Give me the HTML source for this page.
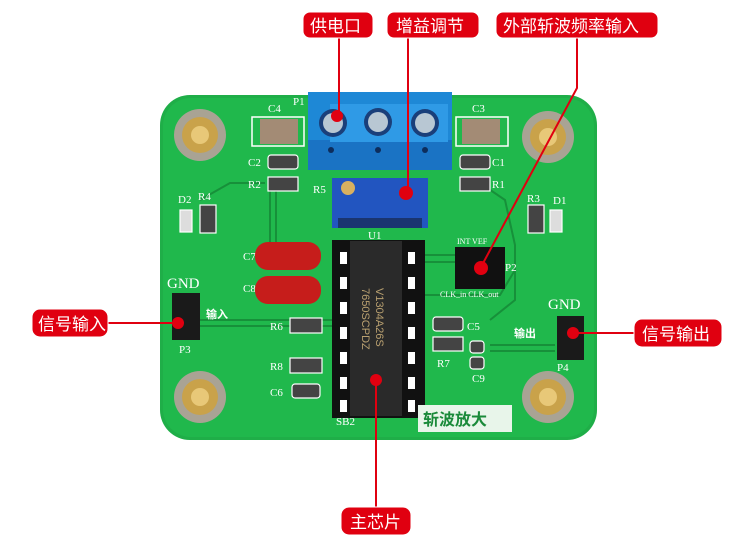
<!DOCTYPE html>
<html><head><meta charset="utf-8"><style>
html,body{margin:0;padding:0;background:#fff;}
svg{display:block;}
.lbl{font-family:"Liberation Sans","Noto Sans CJK SC",sans-serif;font-size:17px;fill:#fff;}
.silk{font-family:"Liberation Serif",serif;fill:#fff;font-size:11px;}
</style></head><body>
<svg width="750" height="545" viewBox="0 0 750 545" xmlns="http://www.w3.org/2000/svg">
<!-- board -->
<rect x="160" y="95" width="437" height="345" rx="30" fill="#1fae48"/>
<rect x="163" y="98" width="431" height="339" rx="28" fill="#20b84c"/>
<!-- traces -->
<g stroke="#17903a" stroke-width="2" fill="none">
<path d="M270 185 L270 245"/><path d="M276 185 L276 245"/>
<path d="M200 200 L230 183 L265 183"/>
<path d="M480 183 L505 200 L515 245 L515 300 L490 320"/>
<path d="M420 255 L455 255"/><path d="M420 262 L455 262"/><path d="M420 295 L500 295 L515 270"/>
<path d="M200 320 L340 320"/><path d="M200 326 L340 326"/>
<path d="M490 345 L555 345"/><path d="M490 351 L555 351"/>
</g>
<!-- mounting posts -->
<g>
<circle cx="200" cy="135" r="26" fill="#a9a394"/><circle cx="200" cy="135" r="18" fill="#c9a24a"/><circle cx="200" cy="135" r="9" fill="#e8c878"/>
<circle cx="548" cy="137" r="26" fill="#a9a394"/><circle cx="548" cy="137" r="18" fill="#c9a24a"/><circle cx="548" cy="137" r="9" fill="#e8c878"/>
<circle cx="200" cy="397" r="26" fill="#a9a394"/><circle cx="200" cy="397" r="18" fill="#c9a24a"/><circle cx="200" cy="397" r="9" fill="#e8c878"/>
<circle cx="548" cy="397" r="26" fill="#a9a394"/><circle cx="548" cy="397" r="18" fill="#c9a24a"/><circle cx="548" cy="397" r="9" fill="#e8c878"/>
</g>
<!-- C4 C3 -->
<rect x="252" y="117" width="52" height="29" fill="none" stroke="#fff" stroke-width="1.5"/>
<rect x="260" y="119" width="38" height="25" fill="#a38b75"/>
<rect x="456" y="117" width="52" height="29" fill="none" stroke="#fff" stroke-width="1.5"/>
<rect x="462" y="119" width="38" height="25" fill="#a38b75"/>
<text class="silk" x="268" y="112">C4</text><text class="silk" x="293" y="105">P1</text><text class="silk" x="472" y="112">C3</text>
<!-- small smd -->
<g fill="#444" stroke="#fff" stroke-width="1.2">
<rect x="268" y="155" width="30" height="14" rx="3"/><rect x="268" y="177" width="30" height="14"/>
<rect x="460" y="155" width="30" height="14" rx="3"/><rect x="460" y="177" width="30" height="14"/>
<rect x="200" y="205" width="16" height="28"/><rect x="180" y="210" width="12" height="22" fill="#ddd"/>
<rect x="528" y="205" width="16" height="28"/><rect x="550" y="210" width="12" height="22" fill="#ddd"/>
<rect x="290" y="318" width="32" height="15"/><rect x="290" y="358" width="32" height="15"/><rect x="292" y="384" width="28" height="14" rx="3"/>
<rect x="433" y="317" width="30" height="14" rx="3"/><rect x="433" y="337" width="30" height="14"/>
<rect x="470" y="341" width="14" height="12" rx="3"/><rect x="470" y="357" width="14" height="12" rx="3"/>
</g>
<g class="silk">
<text x="248" y="166">C2</text><text x="248" y="188">R2</text><text x="492" y="166">C1</text><text x="492" y="188">R1</text>
<text x="178" y="203">D2</text><text x="198" y="200">R4</text><text x="527" y="202">R3</text><text x="553" y="204">D1</text>
<text x="313" y="193">R5</text><text x="368" y="239">U1</text>
<text x="243" y="260">C7</text><text x="243" y="292">C8</text>
<text x="270" y="330">R6</text><text x="270" y="370">R8</text><text x="270" y="396">C6</text>
<text x="467" y="330">C5</text><text x="437" y="367">R7</text><text x="472" y="382">C9</text>
<text x="179" y="353">P3</text><text x="557" y="371">P4</text><text x="336" y="425">SB2</text>
<text x="505" y="271">P2</text>
<text x="457" y="244" font-size="8">INT VEF</text><text x="440" y="297" font-size="8">CLK_in  CLK_out</text>
<text x="167" y="288" font-size="15">GND</text><text x="548" y="309" font-size="15">GND</text>
</g>
<text x="206" y="318" font-family="Noto Sans CJK SC,sans-serif" font-size="11" fill="#fff" font-weight="bold">输入</text>
<text x="514" y="337" font-family="Noto Sans CJK SC,sans-serif" font-size="11" fill="#fff" font-weight="bold">输出</text>
<!-- terminal block -->
<rect x="308" y="92" width="144" height="78" fill="#1e88d6"/>
<rect x="308" y="140" width="144" height="30" fill="#1a73c4"/>
<rect x="330" y="104" width="118" height="38" fill="#2f9ae6"/>
<circle cx="333" cy="123" r="14" fill="#1a3f7a"/><circle cx="333" cy="123" r="10" fill="#b8c7d3"/>
<circle cx="378" cy="122" r="14" fill="#1a3f7a"/><circle cx="378" cy="122" r="10" fill="#b8c7d3"/>
<circle cx="425" cy="123" r="14" fill="#1a3f7a"/><circle cx="425" cy="123" r="10" fill="#b8c7d3"/>
<circle cx="331" cy="150" r="3" fill="#0d2d5c"/><circle cx="378" cy="150" r="3" fill="#0d2d5c"/><circle cx="425" cy="150" r="3" fill="#0d2d5c"/>
<!-- pot -->
<rect x="332" y="178" width="96" height="50" fill="#2255c0"/>
<rect x="338" y="218" width="84" height="10" fill="#1a3570"/>
<circle cx="348" cy="188" r="7" fill="#d8b060"/>
<!-- red caps -->
<rect x="255" y="242" width="66" height="28" rx="13" fill="#c61d1b"/>
<rect x="255" y="276" width="66" height="28" rx="13" fill="#c61d1b"/>
<!-- IC socket and IC -->
<rect x="332" y="240" width="93" height="178" fill="#111"/>
<g fill="#fff">
<rect x="340" y="252" width="7" height="12"/><rect x="340" y="277" width="7" height="12"/><rect x="340" y="302" width="7" height="12"/><rect x="340" y="327" width="7" height="12"/><rect x="340" y="352" width="7" height="12"/><rect x="340" y="377" width="7" height="12"/><rect x="340" y="400" width="7" height="12"/>
<rect x="408" y="252" width="7" height="12"/><rect x="408" y="277" width="7" height="12"/><rect x="408" y="302" width="7" height="12"/><rect x="408" y="327" width="7" height="12"/><rect x="408" y="352" width="7" height="12"/><rect x="408" y="377" width="7" height="12"/><rect x="408" y="400" width="7" height="12"/>
</g>
<rect x="350" y="241" width="52" height="175" fill="#2a2a2a"/>
<text x="0" y="0" transform="translate(362,288) rotate(90)" font-family="Liberation Sans,sans-serif" font-size="11" fill="#b9a070">7650SCPDZ</text>
<text x="0" y="0" transform="translate(376,288) rotate(90)" font-family="Liberation Sans,sans-serif" font-size="11" fill="#b9a070">V1304A26S</text>
<!-- headers -->
<rect x="455" y="247" width="50" height="42" fill="#111"/>
<rect x="172" y="293" width="28" height="47" fill="#1a1a1a"/>
<rect x="557" y="316" width="27" height="44" fill="#1a1a1a"/>
<!-- label box -->
<rect x="418" y="405" width="94" height="27" fill="#e8f5ea"/>
<text x="423" y="425" font-family="Noto Sans CJK SC,sans-serif" font-size="16" font-weight="bold" fill="#1a8a3a">斩波放大</text>
<!-- red lines -->
<g stroke="#e00010" stroke-width="2" fill="none">
<path d="M339 37 L339 118"/><path d="M408 37 L408 193"/>
<path d="M577 37 L577 88 L481 267"/>
<path d="M107 323 L178 323"/><path d="M573 333 L635 333"/>
<path d="M376 380 L376 508"/>
</g>
<g fill="#e00010">
<circle cx="337" cy="116" r="6"/><circle cx="406" cy="193" r="7"/><circle cx="481" cy="268" r="7"/>
<circle cx="178" cy="323" r="6"/><circle cx="573" cy="333" r="6"/><circle cx="376" cy="380" r="6"/>
</g>
<!-- labels -->
<g fill="#e00010" stroke="#fff" stroke-width="1">
<rect x="303" y="12" width="70" height="26" rx="7"/>
<rect x="387" y="12" width="92" height="26" rx="7"/>
<rect x="496" y="12" width="162" height="26" rx="7"/>
<rect x="32" y="309" width="76" height="28" rx="8"/>
<rect x="634" y="319" width="88" height="28" rx="8"/>
<rect x="341" y="507" width="70" height="28" rx="8"/>
</g>
<text class="lbl" x="310" y="32">供电口</text>
<text class="lbl" x="396" y="32">增益调节</text>
<text class="lbl" x="503" y="32">外部斩波频率输入</text>
<text class="lbl" x="38" y="330">信号输入</text>
<text class="lbl" x="642" y="340">信号输出</text>
<text class="lbl" x="350" y="528">主芯片</text>
</svg>
</body></html>
